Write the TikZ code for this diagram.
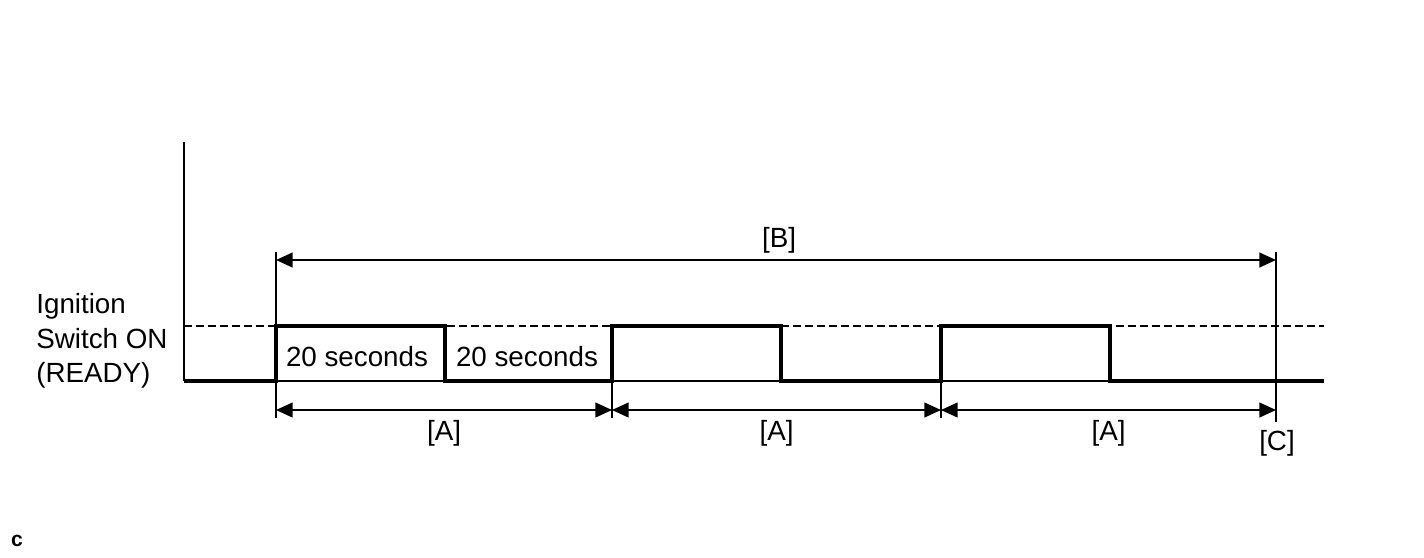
\documentclass[tikz,border=0pt]{standalone}
\usepackage{fontspec}
\setmainfont{Liberation Sans}
\usetikzlibrary{arrows.meta,calc}

\begin{document}
\begin{tikzpicture}[x=0.02cm, y=-0.02cm,
    every node/.style={font=\fontsize{15.8}{19.6}\selectfont, inner sep=0pt},
    thinline/.style={line width=0.7pt},
    sigline/.style={line width=1.8pt, line join=miter},
    dimline/.style={line width=0.8pt,
      {Triangle[length=9.5pt,width=8.5pt]}-{Triangle[length=9.5pt,width=8.5pt]}}]
    \useasboundingbox (0,0) rectangle (1424,558);

    % 纵轴
    \draw[thinline] (184,142) -- (184,381);

    % 低电平基线和高电平虚线
    \draw[thinline] (184,381) -- (1324,381);
    \draw[thinline, dash pattern=on 4.5pt off 2.3pt] (184,326) -- (1324,326);

    % 点火开关信号
    \draw[sigline] (184,381) -- (276,381) -- (276,326) -- (445,326) -- (445,381)
        -- (612,381) -- (612,326) -- (781,326) -- (781,381)
        -- (941,381) -- (941,326) -- (1110,326) -- (1110,381) -- (1324,381);

    % 尺寸界线
    \draw[thinline] (276,252) -- (276,418);
    \foreach \x in {612,941}
        \draw[thinline] (\x,381) -- (\x,418);
    \draw[thinline] (1276,252) -- (1276,422);

    % 标注端点
    \coordinate (b0) at (276,260);
    \coordinate (b1) at (1276,260);
    \foreach \x [count=\i from 0] in {276,612,941,1276}
        \coordinate (a\i) at (\x,410);

    % [B] 总时间
    \draw[dimline] (b0) -- (b1);
    \node (lblB) at (779,240) {[B]};

    % [A] 周期
    \foreach \i/\j in {0/1,1/2,2/3} {
        \draw[dimline] (a\i) -- (a\j);
        \node (lblA\i) at ($(a\i)!0.5!(a\j)+(0,23)$) {[A]};
    }
    \node (lblC) at (1277,443) {[C]};

    % 时间标记
    \node (sec1) at (357,357) {20 seconds};
    \node (sec2) at (527,357) {20 seconds};

    % 信号名称
    \node[align=left, anchor=west] (ign) at (36,341) {Ignition\\Switch ON\\(READY)};

    % 角标
    \node[font=\fontsize{12}{14}\selectfont\bfseries] (corner) at (17,541) {c};
\end{tikzpicture}
\end{document}
